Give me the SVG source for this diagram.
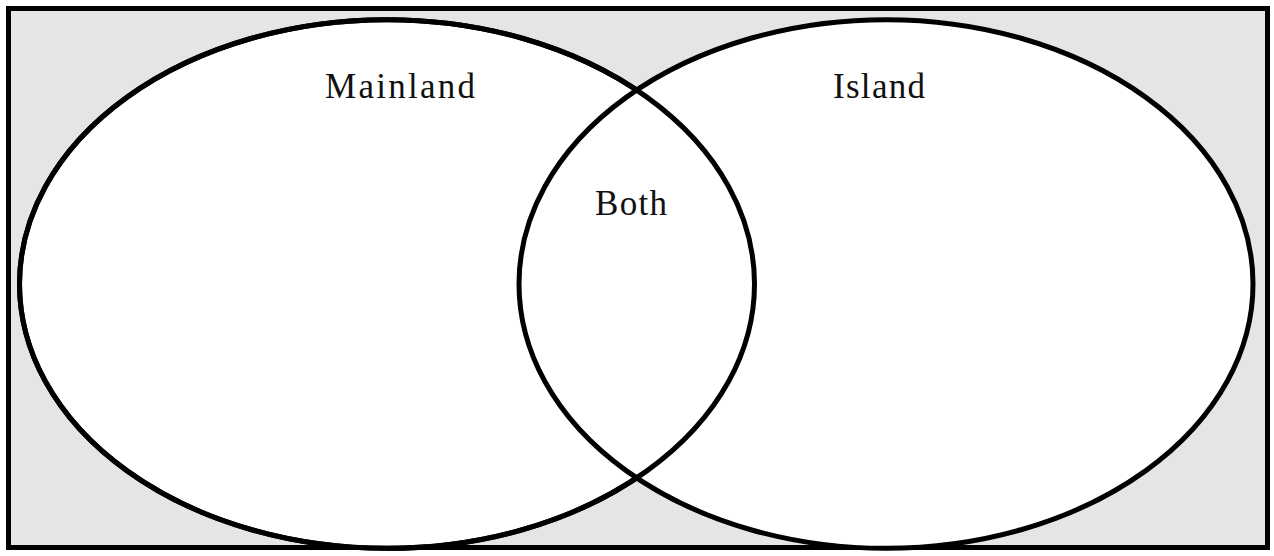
<svg xmlns="http://www.w3.org/2000/svg" width="1274" height="556" viewBox="0 0 1274 556">
  <style>
    .frame { fill: #e5e5e5; stroke: #000; stroke-width: 5; }
    .set { fill: #fff; stroke: #000; stroke-width: 5; }
    .ring { fill: none; stroke: #000; stroke-width: 5; }
    .lbl { font-family: "Liberation Serif", "DejaVu Serif", serif; font-size: 35px; fill: #111; text-anchor: middle; }
  </style>
  <rect class="frame" x="8.5" y="8.5" width="1259" height="539"/>
  <g id="mainland">
    <ellipse class="set" cx="387" cy="284" rx="367.5" ry="264.3"/>
  </g>
  <g id="island">
    <ellipse class="set" cx="886" cy="284" rx="367" ry="264.3"/>
  </g>
  <g id="outlines">
    <ellipse class="ring" cx="387" cy="284" rx="367.5" ry="264.3"/>
  </g>
  <g id="labels">
    <text class="lbl" x="400" y="98" textLength="150" lengthAdjust="spacing">Mainland</text>
    <text class="lbl" x="879" y="98" textLength="92" lengthAdjust="spacing">Island</text>
    <text class="lbl" x="631" y="215" textLength="72" lengthAdjust="spacing">Both</text>
  </g>
</svg>
